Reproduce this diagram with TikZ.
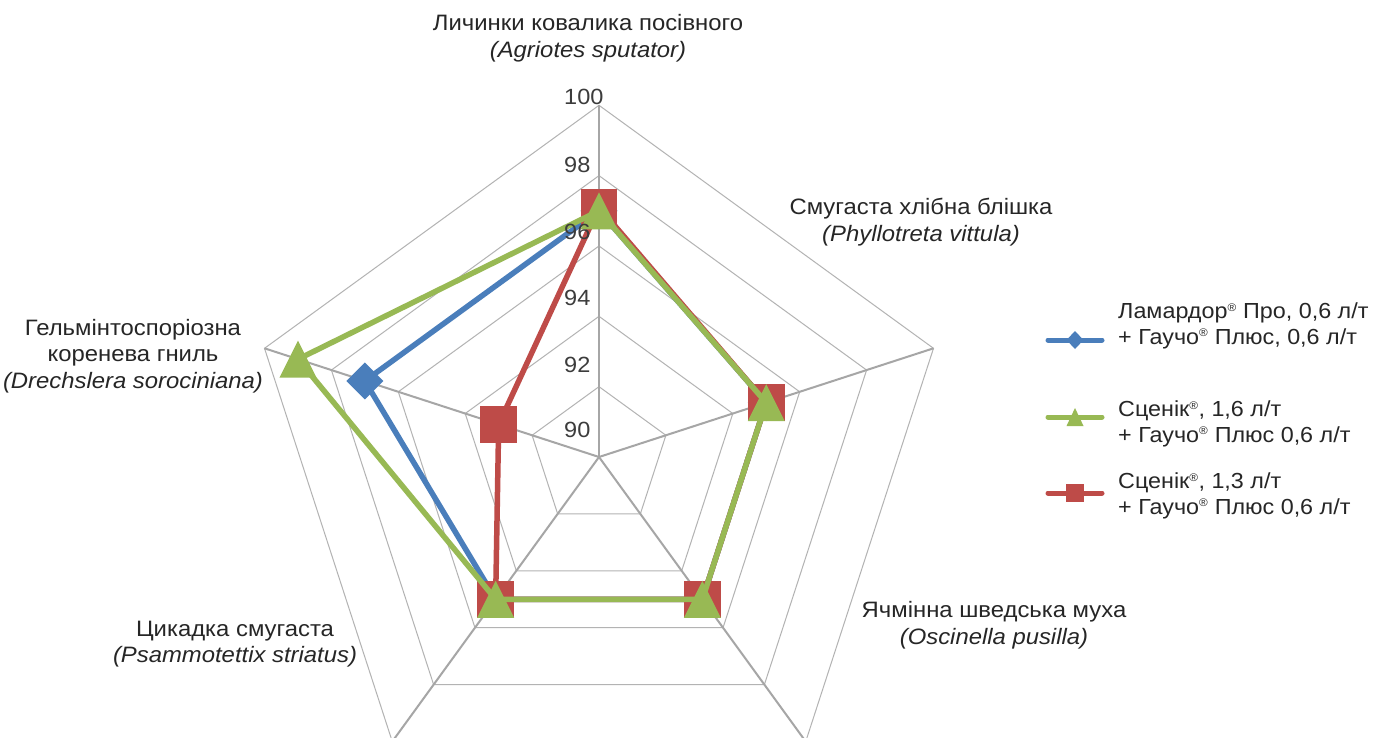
\documentclass[tikz,border=0pt]{standalone}
\usepackage{fontspec}
\setmainfont[FakeStretch=1.07]{Liberation Sans}
\definecolor{sblue}{HTML}{4A7EBB}
\definecolor{sgreen}{HTML}{98B954}
\definecolor{sred}{HTML}{BE4B48}
\definecolor{gridc}{HTML}{A6A6A6}
\definecolor{txt}{HTML}{262626}
\newcommand{\rg}{\textsuperscript{\fontsize{11}{11}\selectfont ®}}
\begin{document}
\begin{tikzpicture}[x=1pt,y=-1pt,
  ringline/.style={draw=gridc!85, line width=1pt},
  spokeline/.style={draw=gridc, line width=2pt},
  dataline/.style={line width=5.5pt, line join=round},
  cat/.style={font=\fontsize{22.3}{26.5}\selectfont, text=txt, align=center, inner sep=0pt},
  axlab/.style={font=\fontsize{22}{24}\selectfont, text=txt!90, anchor=west, inner sep=0pt},
  leg/.style={font=\fontsize{21.8}{25.5}\selectfont, text=txt, anchor=west, inner sep=0pt, align=left},
  legline/.style={line width=5pt, line cap=round}]
\useasboundingbox (0,0) rectangle (1378,738);
\clip (0,0) rectangle (1378,738);
\fill[white] (0,0) rectangle (1378,738);
\begin{scope}[shift={(599,457)}]
  \foreach \r in {70.34,140.68,211.02,281.36,351.7}
    \draw[ringline] (-90:\r) -- (-18:\r) -- (54:\r) -- (126:\r) -- (198:\r) -- cycle;
  \foreach \a in {-90,-18,54,126,198}
    \draw[spokeline] (0,0) -- (\a:351.7);
  % data points
  \coordinate (b1) at (-90:246.2);
  \coordinate (b2) at (-18:175.85);
  \coordinate (b3) at (54:175.85);
  \coordinate (b4) at (126:175.85);
  \coordinate (b5) at (198:246.2);
  \coordinate (r1) at (-90:249.7);
  \coordinate (r2) at (-18:175.85);
  \coordinate (r3) at (54:175.85);
  \coordinate (r4) at (126:175.85);
  \coordinate (r5) at (198:105.5);
  \coordinate (g1) at (-90:246.2);
  \coordinate (g2) at (-18:175.85);
  \coordinate (g3) at (54:175.85);
  \coordinate (g4) at (126:175.85);
  \coordinate (g5) at (198:316.5);
\end{scope}
% blue series
\draw[dataline, sblue] (b1) -- (b2) -- (b3) -- (b4) -- (b5) -- cycle;
\foreach \p in {b1,b2,b3,b4,b5}
  \fill[sblue] (\p) ++(0,-18.5) -- ++(18.5,18.5) -- ++(-18.5,18.5) -- ++(-18.5,-18.5) -- cycle;
% red series
\draw[dataline, sred] (r1) -- (r2) -- (r3) -- (r4) -- (r5) -- cycle;
\foreach \p in {r1,r2,r3,r4,r5}
  \fill[sred] (\p) ++(-18.3,-18.3) rectangle ++(36.6,36.6);
% green series
\draw[dataline, sgreen] (g1) -- (g2) -- (g3) -- (g4) -- (g5) -- cycle;
\foreach \p in {g1,g2,g3,g4,g5}
  \fill[sgreen] (\p) ++(0,-18.5) -- ++(18.5,37) -- ++(-37,0) -- cycle;
% axis labels
\node[axlab] (l100) at (564,97) {100};
\node[axlab] (l98) at (564,165) {98};
\node[axlab] (l96) at (564,232) {96};
\node[axlab] (l94) at (564,298) {94};
\node[axlab] (l92) at (564,365) {92};
\node[axlab] (l90) at (564,430) {90};
% category labels
\node[cat] (c1) at (588,38) {Личинки ковалика посівного\\\textit{(Agriotes sputator)}};
\node[cat] (c2) at (921,222) {Смугаста хлібна блішка\\\textit{(Phyllotreta vittula)}};
\node[cat] (c5) at (133,356) {Гельмінтоспоріозна\\коренева гниль\\\textit{(Drechslera sorociniana)}};
\node[cat] (c4) at (235,644) {Цикадка смугаста\\\textit{(Psammotettix striatus)}};
\node[cat] (c3) at (994,625) {Ячмінна шведська муха\\\textit{(Oscinella pusilla)}};
% legend
\coordinate (lb0) at (1048,340); \coordinate (lb1) at (1102,340);
\coordinate (lg0) at (1048,417); \coordinate (lg1) at (1102,417);
\coordinate (lr0) at (1048,493); \coordinate (lr1) at (1102,493);
\coordinate (lbm) at (1075,340); \coordinate (lgm) at (1075,417); \coordinate (lrm) at (1075,493);
\draw[legline, sblue] (lb0) -- (lb1);
\fill[sblue] (lbm) ++(0,-9) -- ++(8.5,9) -- ++(-8.5,9) -- ++(-8.5,-9) -- cycle;
\draw[legline, sgreen] (lg0) -- (lg1);
\fill[sgreen] (lgm) ++(0,-9) -- ++(8.5,18) -- ++(-17,0) -- cycle;
\draw[legline, sred] (lr0) -- (lr1);
\fill[sred] (lrm) ++(-9,-9) rectangle ++(18,18);
\node[leg] (t1) at (1118,326) {Ламардор\rg{} Про, 0,6 л/т\\+ Гаучо\rg{} Плюс, 0,6 л/т};
\node[leg] (t2) at (1118,424) {Сценік\rg, 1,6 л/т\\+ Гаучо\rg{} Плюс 0,6 л/т};
\node[leg] (t3) at (1118,496) {Сценік\rg, 1,3 л/т\\+ Гаучо\rg{} Плюс 0,6 л/т};
\end{tikzpicture}
\end{document}
